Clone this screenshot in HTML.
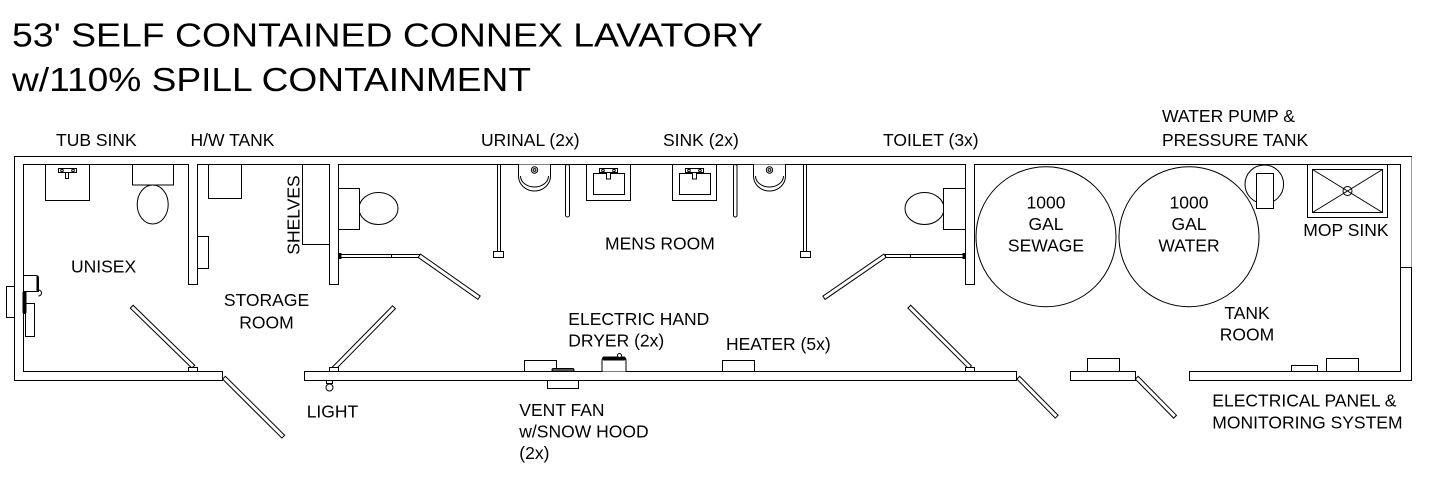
<!DOCTYPE html>
<html><head><meta charset="utf-8"><style>
html,body{margin:0;padding:0;background:#fff;}
svg{display:block;}
text{font-family:"Liberation Sans",Arial,sans-serif;fill:#000;}
</style></head><body>
<svg width="1429" height="486" viewBox="0 0 1429 486" xmlns="http://www.w3.org/2000/svg">
<rect x="0" y="0" width="1429" height="486" fill="#fff"/>

<!-- Title -->
<text x="12" y="46.7" font-size="33" textLength="751" lengthAdjust="spacingAndGlyphs">53' SELF CONTAINED CONNEX LAVATORY</text>
<text x="12" y="91" font-size="33" textLength="519" lengthAdjust="spacingAndGlyphs">w/110% SPILL CONTAINMENT</text>

<!-- Walls: layer 1 outlined -->
<g fill="#fff" stroke="#000" stroke-width="1">
<rect x="14.5" y="156.5" width="1397" height="8"/>
<rect x="14.5" y="156.5" width="9" height="224"/>
<rect x="1400.5" y="156.5" width="11" height="224"/>
<rect x="14.5" y="371.5" width="208" height="9"/>
<rect x="304.5" y="371.5" width="712" height="9"/>
<rect x="1070.5" y="371.5" width="65" height="9"/>
<rect x="1189.5" y="371.5" width="222" height="9"/>
<rect x="188.5" y="156.5" width="9" height="128"/>
<rect x="329.5" y="156.5" width="9" height="128"/>
<rect x="965.5" y="156.5" width="9" height="128"/>
</g>
<!-- Walls: layer 2 white inset to merge -->
<g fill="#fff" stroke="none">
<rect x="15" y="157" width="1396" height="7"/>
<rect x="15" y="157" width="8" height="223"/>
<rect x="1401" y="157" width="10" height="223"/>
<rect x="15" y="372" width="207" height="8"/>
<rect x="305" y="372" width="711" height="8"/>
<rect x="1071" y="372" width="64" height="8"/>
<rect x="1190" y="372" width="221" height="8"/>
<rect x="189" y="157" width="8" height="127"/>
<rect x="330" y="157" width="8" height="127"/>
<rect x="966" y="157" width="8" height="127"/>
</g>
<line x1="1411.5" y1="157" x2="1411.5" y2="267" stroke="#999" stroke-width="1"/>
<line x1="1400.5" y1="267.5" x2="1411.5" y2="267.5" stroke="#000" stroke-width="1"/>

<g fill="#fff" stroke="#000" stroke-width="1">
<!-- Unisex -->
<rect x="45.5" y="164.5" width="44" height="36"/>
<rect x="58.5" y="168.5" width="18" height="4"/>
<circle cx="62" cy="170.5" r="1.3"/>
<circle cx="73" cy="170.5" r="1.3"/>
<rect x="65.5" y="172.5" width="3" height="6"/>
<ellipse cx="152.7" cy="204.5" rx="15.5" ry="19.5"/>
<rect x="132.5" y="164.5" width="41" height="20.5"/>
<rect x="6.5" y="286.5" width="8" height="31"/>
<path d="M23.5,275.5 H36 Q38.5,275.5 38.5,278 V291.5 H23.5 Z"/>
<line x1="37.5" y1="276" x2="37.5" y2="291" stroke-width="2"/>
<path d="M38.5,290 A3,3 0 0 1 38.5,296" fill="none"/>
<rect x="25.5" y="303.5" width="9" height="33"/>
<rect x="23" y="291.5" width="3" height="22" rx="1.5" fill="#000"/>

<!-- Storage -->
<rect x="208.5" y="164.5" width="33" height="34"/>
<rect x="197.5" y="236.5" width="11" height="32"/>
<rect x="302.5" y="164.5" width="27" height="80"/>

<!-- Men's room left toilet -->
<ellipse cx="378.5" cy="208.5" rx="19.5" ry="16"/>
<rect x="338.5" y="188.5" width="21" height="41"/>
<rect x="338.5" y="254.5" width="81" height="3"/>
<line x1="391.5" y1="254.5" x2="391.5" y2="257.5"/>
<rect x="338.5" y="253.5" width="2.5" height="5" fill="#000"/>

<!-- stall post 1 -->
<rect x="497.5" y="164.5" width="3" height="88"/>
<rect x="493.5" y="251.5" width="10" height="6"/>

<!-- urinal 1 -->
<path d="M518.5,164.5 V176 A16,15 0 0 0 550.5,176 V164.5"/>
<path d="M520.5,176 A14,11 0 0 0 548.5,176" fill="none"/>
<circle cx="534.5" cy="170" r="3.2"/>
<circle cx="534.5" cy="170" r="1.4"/>

<!-- divider post 1 -->
<rect x="565.5" y="164.5" width="4" height="52.5" rx="2"/>

<!-- sink 1 -->
<rect x="586.5" y="164.5" width="44" height="36"/>
<rect x="593.5" y="173.5" width="31" height="21"/>
<rect x="599.5" y="168.5" width="18" height="4"/>
<circle cx="603" cy="170.5" r="1.3"/>
<circle cx="614" cy="170.5" r="1.3"/>
<rect x="606.5" y="172.5" width="4" height="6.5"/>

<!-- sink 2 -->
<rect x="672.5" y="164.5" width="44" height="36"/>
<rect x="679.5" y="173.5" width="31" height="21"/>
<rect x="685.5" y="168.5" width="18" height="4"/>
<circle cx="689" cy="170.5" r="1.3"/>
<circle cx="700" cy="170.5" r="1.3"/>
<rect x="692.5" y="172.5" width="4" height="6.5"/>

<!-- divider post 2 -->
<rect x="733.5" y="164.5" width="3.5" height="52.5" rx="1.75"/>

<!-- urinal 2 -->
<path d="M753.5,164.5 V176 A16,15 0 0 0 785.5,176 V164.5"/>
<path d="M755.5,176 A14,11 0 0 0 783.5,176" fill="none"/>
<circle cx="769.5" cy="170" r="3.2"/>
<circle cx="769.5" cy="170" r="1.4"/>

<!-- stall post 2 -->
<rect x="803.5" y="164.5" width="3" height="88"/>
<rect x="800.5" y="251.5" width="10" height="6"/>

<!-- right toilet -->
<ellipse cx="924.5" cy="208.5" rx="19.5" ry="16"/>
<rect x="943.5" y="188.5" width="22" height="41"/>
<rect x="885.5" y="254.5" width="80" height="3"/>
<line x1="910.5" y1="254.5" x2="910.5" y2="257.5"/>
<rect x="963" y="253.5" width="2.5" height="5" fill="#000"/>

<!-- Doors -->
<rect x="0" y="-2" width="86" height="4" transform="translate(193.3,366.7) rotate(-135.75)"/>
<rect x="0" y="-2" width="83.6" height="4" transform="translate(224,377.7) rotate(44.85)"/>
<rect x="0" y="-2" width="85.6" height="4" transform="translate(334,368.3) rotate(-45.5)"/>
<rect x="0" y="-2" width="73" height="4" transform="translate(419.3,255.7) rotate(35.1)"/>
<rect x="0" y="-2" width="74.1" height="4" transform="translate(885,255.7) rotate(145.45)"/>
<rect x="0" y="-2" width="85.8" height="4" transform="translate(970,367.3) rotate(-135.05)"/>
<rect x="0" y="-2" width="54.7" height="4" transform="translate(1018.3,377.7) rotate(45.45)"/>
<rect x="0" y="-2" width="54.7" height="4" transform="translate(1136.7,377.7) rotate(45.5)"/>

<!-- hinges -->
<rect x="188.5" y="367.5" width="9" height="4"/>
<rect x="329.5" y="367.5" width="9" height="4"/>
<rect x="965.5" y="367.5" width="9" height="4"/>

<!-- light -->
<rect x="326.5" y="380.5" width="6" height="3"/>
<circle cx="329.5" cy="387.5" r="3.5"/>

<!-- vent fan -->
<rect x="524.5" y="360.5" width="32" height="11"/>
<rect x="547.5" y="380.5" width="31" height="8"/>
<rect x="552" y="368.5" width="22" height="3" rx="1.5" fill="#555"/>

<!-- hand dryer -->
<path d="M602,371.5 V360 Q602,357.5 605,357.5 H623 Q626,357.5 626,360 V371.5"/>
<rect x="603" y="357" width="22" height="3" rx="1" fill="#000"/>
<circle cx="619.5" cy="355.5" r="2"/>

<!-- heater -->
<rect x="722.5" y="360.5" width="32" height="11"/>

<!-- tank room bottom fixtures -->
<rect x="1087.5" y="358.5" width="32" height="13"/>
<rect x="1291.5" y="365.5" width="26" height="6"/>
<rect x="1326.5" y="358.5" width="32" height="13"/>

<!-- tanks -->
<circle cx="1046" cy="236.7" r="70" fill="none"/>
<circle cx="1189" cy="236.7" r="70" fill="none"/>
<circle cx="1264.3" cy="184.3" r="19.3" fill="none"/>
<rect x="1256.5" y="173.5" width="17" height="35"/>

<!-- mop sink -->
<rect x="1307.5" y="164.5" width="80" height="53"/>
<rect x="1312.5" y="169.5" width="70" height="43"/>
<line x1="1312.5" y1="169.5" x2="1382.5" y2="212.5"/>
<line x1="1382.5" y1="169.5" x2="1312.5" y2="212.5"/>
<circle cx="1347.5" cy="191" r="4.5" fill="none"/>
</g>

<!-- Labels -->
<g font-size="17.5">
<text x="56" y="146">TUB SINK</text>
<text x="190.5" y="146">H/W TANK</text>
<text x="481" y="146">URINAL (2x)</text>
<text x="663" y="146">SINK (2x)</text>
<text x="883" y="146">TOILET (3x)</text>
<text x="1162" y="122">WATER PUMP &amp;</text>
<text x="1162" y="146">PRESSURE TANK</text>

<text x="71" y="272.3">UNISEX</text>
<text x="266.5" y="306" text-anchor="middle">STORAGE</text>
<text x="266.5" y="328.3" text-anchor="middle">ROOM</text>
<text transform="translate(299.3,215) rotate(-90)" text-anchor="middle">SHELVES</text>

<text x="605" y="249.3">MENS ROOM</text>
<text x="568.3" y="325">ELECTRIC HAND</text>
<text x="568.3" y="346.7">DRYER (2x)</text>
<text x="726" y="350">HEATER (5x)</text>
<text x="306.7" y="417.7">LIGHT</text>
<text x="519.3" y="416">VENT FAN</text>
<text x="519.3" y="437.5">w/SNOW HOOD</text>
<text x="519.3" y="459">(2x)</text>

<text x="1046" y="208.3" text-anchor="middle">1000</text>
<text x="1046" y="230" text-anchor="middle">GAL</text>
<text x="1046" y="251.7" text-anchor="middle">SEWAGE</text>
<text x="1189" y="208.3" text-anchor="middle">1000</text>
<text x="1189" y="230" text-anchor="middle">GAL</text>
<text x="1189" y="251.7" text-anchor="middle">WATER</text>
<text x="1303.3" y="236">MOP SINK</text>
<text x="1247" y="319" text-anchor="middle">TANK</text>
<text x="1247" y="340.7" text-anchor="middle">ROOM</text>
<text x="1212.3" y="406.7">ELECTRICAL PANEL &amp;</text>
<text x="1212.3" y="428.3">MONITORING SYSTEM</text>
</g>
</svg>
</body></html>
